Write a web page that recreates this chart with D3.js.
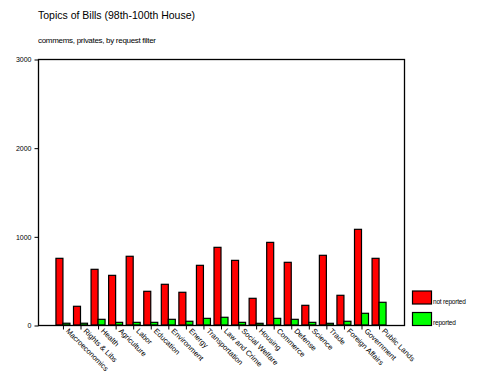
<!DOCTYPE html>
<meta charset="utf-8">
<head>
  <title>Topics of Bills</title>
</head>
<body>
<style>
  html, body { margin: 0; padding: 0; background: #fff; }
  svg text { font-family: "Liberation Sans", Arial, sans-serif; fill: #000; }
  .bar { stroke: #000; stroke-width: 1.2px; }
</style>
<div class="chart"></div>
<script src="https://cdnjs.cloudflare.com/ajax/libs/d3/7.8.5/d3.min.js"></script>
<script>

var topics = ["Macroeconomics", "Rights & Libs", "Health", "Agriculture", "Labor",
  "Education", "Environment", "Energy", "Transportation", "Law and Crime",
  "Social Welfare", "Housing", "Commerce", "Defense", "Science", "Trade",
  "Foreign Affairs", "Government", "Public Lands"];

var notReported = [752, 211, 628, 560, 775, 380, 459, 369, 673, 876,
  729, 301, 932, 707, 222, 786, 335, 1079, 752];

var reported = [20, 20, 64, 30, 30, 30, 64, 42, 75, 87,
  30, 19, 75, 64, 30, 19, 42, 132, 256];

var yTicks = [0, 1000, 2000, 3000];

var seriesNames = ["not reported", "reported"];
var seriesColors = ["#ff0000", "#00ff00"];

(function() {
  var width = 480, height = 384;
  var left = 38, right = 404, top = 59, bottom = 325;

  var svg = d3.select(".chart").append("svg")
      .attr("width", width)
      .attr("height", height);

  svg.append("text")
      .attr("x", 38).attr("y", 19)
      .style("font-size", "10.5px")
      .text("Topics of Bills (98th-100th House)");

  svg.append("text")
      .attr("x", 38).attr("y", 43)
      .style("font-size", "8px")
      .style("letter-spacing", "-0.3px")
      .text("commems, privates, by request filter");

  var x = d3.scalePoint()
      .domain(topics)
      .range([left, right])
      .padding(1.42);

  var y = d3.scaleLinear()
      .domain([0, 3000])
      .range([bottom, top]);

  var barW = 7;

  var g = svg.append("g");

  // not reported bars (left of tick)
  g.selectAll(".bar-nr")
      .data(topics)
    .enter().append("rect")
      .attr("class", "bar")
      .attr("x", function(d) { return x(d) - barW; })
      .attr("y", function(d, i) { return y(notReported[i]); })
      .attr("width", barW)
      .attr("height", function(d, i) { return y(0) - y(notReported[i]); })
      .style("fill", seriesColors[0]);

  // reported bars (right of tick)
  g.selectAll(".bar-r")
      .data(topics)
    .enter().append("rect")
      .attr("class", "bar")
      .attr("x", function(d) { return x(d); })
      .attr("y", function(d, i) { return y(reported[i]); })
      .attr("width", barW)
      .attr("height", function(d, i) { return y(0) - y(reported[i]); })
      .style("fill", seriesColors[1]);

  // frame
  svg.append("rect")
      .attr("x", left + 0.5).attr("y", top + 0.5)
      .attr("width", right - left).attr("height", bottom - top)
      .style("fill", "none")
      .style("stroke", "#000")
      .style("stroke-width", "1.3px");

  // y axis
  var yAxis = d3.axisLeft(y)
      .tickValues(yTicks)
      .tickSize(4)
      .tickPadding(3)
      .tickFormat(d3.format("d"));

  var ya = svg.append("g")
      .attr("transform", "translate(" + (left + 0.5) + ",0.5)")
      .call(yAxis);
  ya.select(".domain").remove();
  ya.selectAll("text")
      .style("font-size", "7px")
      .style("font-family", "Liberation Sans, Arial, sans-serif");

  // x axis
  var xAxis = d3.axisBottom(x)
      .tickSize(4)
      .tickSizeOuter(0);

  var xa = svg.append("g")
      .attr("transform", "translate(0," + (bottom + 0.5) + ")")
      .call(xAxis);
  xa.select(".domain").remove();
  xa.selectAll("text")
      .attr("x", 0).attr("y", 0).attr("dy", null)
      .attr("text-anchor", "start")
      .attr("transform", "translate(2,6) rotate(45)")
      .style("font-size", "7.5px")
      .style("font-family", "Liberation Sans, Arial, sans-serif");

  // legend
  var legend = svg.append("g");
  seriesNames.forEach(function(name, i) {
    var ly = 291 + i * 21.5;
    legend.append("rect")
        .attr("x", 412.5).attr("y", ly)
        .attr("width", 19).attr("height", 13)
        .style("fill", seriesColors[i])
        .style("stroke", "#000")
        .style("stroke-width", "1.2px");
    legend.append("text")
        .attr("x", 433).attr("y", ly + 12.5)
        .style("font-size", "6.5px")
        .style("letter-spacing", "-0.2px")
        .text(name);
  });
})();

</script>
</body>
